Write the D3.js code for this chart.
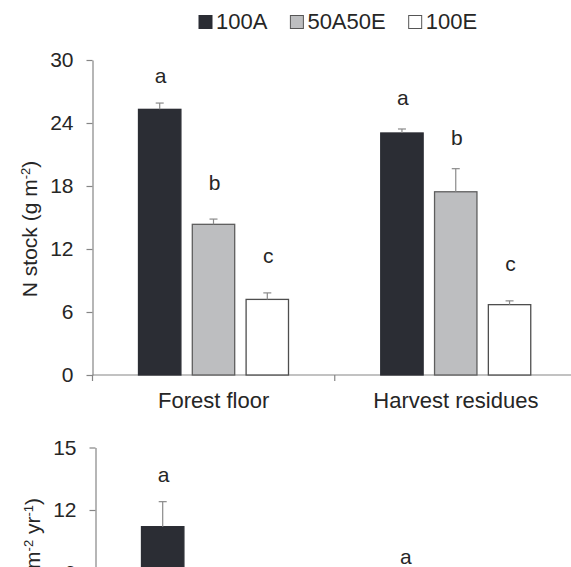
<!DOCTYPE html>
<html>
<head>
<meta charset="utf-8">
<script src="https://cdn.jsdelivr.net/npm/d3@7"></script>
<style>
  html, body { margin: 0; padding: 0; background: #fff; }
  svg { display: block; font-family: "Liberation Sans", Arial, sans-serif; }
</style>
</head>
<body>
<svg id="chart" width="571" height="567"></svg>
<script>
// categories and treatments
const categories = ['Forest floor', 'Harvest residues'];
const treatments = ['100A', '50A50E', '100E'];

// top panel: N stock (g m-2)
const stockMeans = [[25.3, 14.35, 7.2], [23.05, 17.45, 6.7]];
const stockErrors = [[0.6, 0.5, 0.62], [0.38, 2.2, 0.36]];
const stockLetters = [['a', 'b', 'c'], ['a', 'b', 'c']];
const stockLetterY = [[27.8, 17.6, 10.7], [25.7, 21.9, 9.95]];
const stockTicks = [0, 6, 12, 18, 24, 30];

// bottom panel: N release (g m-2 yr-1), mostly below the visible area
const releaseMeans = [[11.2, 5.4, 3.1], [7.7, 6.4, 4.2]];
const releaseErrors = [[1.2, 0.8, 0.5], [0.5, 0.9, 0.4]];
const releaseLetters = [['a', 'b', 'b'], ['a', 'a', 'b']];
const releaseLetterY = [[13.35, 7.6, 5.0], [9.4, 8.6, 6.0]];
const releaseTicks = [0, 3, 6, 9, 12, 15];

const fills = ['#2b2d34', '#bdbec0', '#ffffff'];
const strokes = ['#2b2d34', '#5e5e5e', '#4e4e4e'];
const axisColor = '#858585';
const textColor = '#262626';

const svg = d3.select('#chart');

// legend
const legend = svg.append('g');
let lx = 199;
treatments.forEach((t, i) => {
  legend.append('rect')
    .attr('x', lx).attr('y', 15.5)
    .attr('width', 13).attr('height', 13)
    .attr('fill', fills[i])
    .attr('stroke', i === 0 ? fills[0] : '#555')
    .attr('stroke-width', 1);
  const txt = legend.append('text')
    .attr('x', lx + 17).attr('y', 28.5)
    .attr('font-size', 22)
    .attr('fill', textColor)
    .text(t);
  lx += 17 + txt.node().getComputedTextLength() + 23;
});

function panel(opts) {
  const g = svg.append('g');

  const x = d3.scaleBand()
    .domain(categories)
    .range([opts.left, opts.left + 484.5]);

  const xSub = d3.scaleBand()
    .domain(treatments)
    .range([46, 196])
    .paddingInner(0.212);

  const y = d3.scaleLinear()
    .domain([0, opts.max])
    .range([opts.bottom, opts.top]);

  // y axis
  const yAxis = g.append('g')
    .attr('transform', `translate(${opts.left},0)`)
    .call(d3.axisLeft(y).tickValues(opts.ticks).tickSize(6).tickSizeOuter(0).tickPadding(13));
  yAxis.select('.domain').attr('stroke', axisColor).attr('stroke-width', 1.2);
  yAxis.selectAll('.tick line').attr('stroke', axisColor).attr('stroke-width', 1.2);
  yAxis.selectAll('.tick text')
    .attr('font-size', 21)
    .attr('fill', textColor)
    .attr('font-family', '"Liberation Sans", Arial, sans-serif');

  // x axis line and category separators
  g.append('line')
    .attr('x1', opts.left).attr('x2', opts.left + 484.5)
    .attr('y1', y(0)).attr('y2', y(0))
    .attr('stroke', axisColor).attr('stroke-width', 1.2);
  g.selectAll('.sep')
    .data(categories.concat(['end']))
    .enter().append('line')
    .attr('x1', d => d === 'end' ? opts.left + 484.5 : x(d))
    .attr('x2', d => d === 'end' ? opts.left + 484.5 : x(d))
    .attr('y1', y(0)).attr('y2', y(0) + 6)
    .attr('stroke', axisColor).attr('stroke-width', 1.2);

  g.selectAll('.cat')
    .data(categories)
    .enter().append('text')
    .attr('x', d => x(d) + x.bandwidth() / 2)
    .attr('y', y(0) + 33)
    .attr('text-anchor', 'middle')
    .attr('font-size', 22)
    .attr('fill', textColor)
    .text(d => d);

  // bars
  categories.forEach((c, ci) => {
    const grp = g.append('g').attr('transform', `translate(${x(c)},0)`);
    treatments.forEach((t, ti) => {
      const v = opts.means[ci][ti];
      const e = opts.errors[ci][ti];
      const bx = xSub(t);
      const cx = bx + xSub.bandwidth() / 2;
      grp.append('rect')
        .attr('x', bx)
        .attr('y', y(v))
        .attr('width', xSub.bandwidth())
        .attr('height', y(0) - y(v))
        .attr('fill', fills[ti])
        .attr('stroke', strokes[ti])
        .attr('stroke-width', 1.3);
      grp.append('line')
        .attr('x1', cx).attr('x2', cx)
        .attr('y1', y(v)).attr('y2', y(v + e))
        .attr('stroke', '#8a8a8a').attr('stroke-width', 1.2);
      grp.append('line')
        .attr('x1', cx - 4).attr('x2', cx + 4)
        .attr('y1', y(v + e)).attr('y2', y(v + e))
        .attr('stroke', '#8a8a8a').attr('stroke-width', 1.2);
      grp.append('text')
        .attr('x', cx + 1)
        .attr('y', y(opts.letterY[ci][ti]))
        .attr('text-anchor', 'middle')
        .attr('font-size', 21)
        .attr('fill', textColor)
        .text(opts.letters[ci][ti]);
    });
  });

  // y axis title
  const title = g.append('text')
    .attr('transform', `translate(${opts.titleX},${opts.titleY}) rotate(-90)`)
    .attr('text-anchor', opts.titleAnchor)
    .attr('font-size', 21)
    .attr('fill', textColor);
  opts.title.forEach(part => {
    const ts = title.append('tspan').text(part.t);
    if (part.sup) ts.attr('baseline-shift', 'super').attr('font-size', 13);
  });
}

panel({
  left: 92.5, top: 60, bottom: 375, max: 30, ticks: stockTicks,
  means: stockMeans, errors: stockErrors,
  letters: stockLetters, letterY: stockLetterY,
  titleX: 37, titleY: 229, titleAnchor: 'middle',
  title: [{ t: 'N stock (g m' }, { t: '-2', sup: true }, { t: ')' }]
});

panel({
  left: 95.5, top: 447.5, bottom: 760, max: 15, ticks: releaseTicks,
  means: releaseMeans, errors: releaseErrors,
  letters: releaseLetters, letterY: releaseLetterY,
  titleX: 40, titleY: 498, titleAnchor: 'end',
  title: [{ t: 'N release (g m' }, { t: '-2', sup: true }, { t: ' yr' }, { t: '-1', sup: true }, { t: ')' }]
});
</script>
</body>
</html>
